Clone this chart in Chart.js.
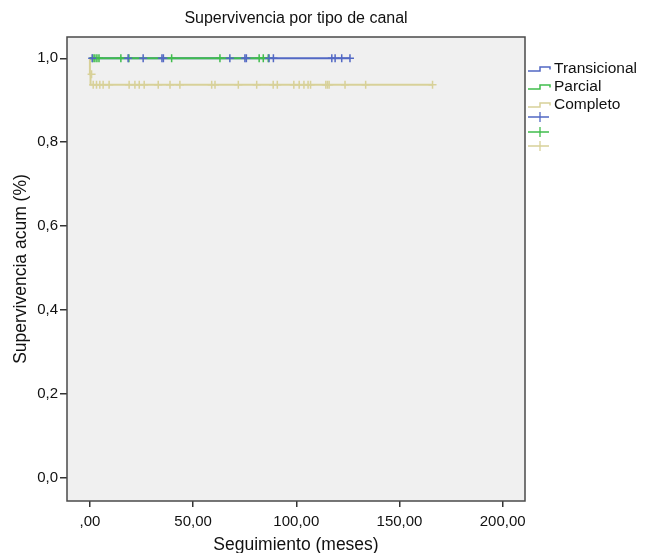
<!DOCTYPE html>
<html>
<head>
<meta charset="utf-8">
<script src="https://cdn.jsdelivr.net/npm/chart.js@4"></script>
<style>
  html, body { margin: 0; padding: 0; background: #fff; }
</style>
</head>
<body>
<canvas id="myChart" width="648" height="553"></canvas>
<script>
const groups = ['Transicional', 'Parcial', 'Completo'];
const colors = ['#5268c4', '#40bd4c', '#d8d199'];

// step curves (meses, supervivencia acumulada)
const transTime = [0, 126];
const transSurv = [1, 1];
const parcTime = [0, 86.4];
const parcSurv = [1, 1];
const compTime = [0, 0.3, 1.2, 166];
const compSurv = [1, 0.962, 0.937, 0.937];

// censored cases
const transCens = [1.1, 18.5, 25.8, 34.9, 35.6, 67.8, 75.1, 75.8, 86.8, 88.9, 117.2, 118.8, 122, 126];
const parcCens = [1.5, 2.4, 3.4, 4.4, 15, 18.9, 39.6, 63, 82, 84, 86.4];
const compCens = [1.6, 3.2, 4.8, 6.4, 9.3, 19.0, 21.8, 23.9, 26.3, 33.1, 38.8, 43.6, 59.0, 60.6,
  71.9, 80.8, 88.8, 90.8, 98.8, 101.4, 103.7, 105.7, 106.9, 114.3, 115.1, 115.9, 123.6, 133.6, 166];
const compEarlyCens = [0.8];

const xTicks = [0, 50, 100, 150, 200];
const yTicks = [0, 0.2, 0.4, 0.6, 0.8, 1.0];

function curve(t, s) {
  return t.map((v, i) => ({ x: v, y: s[i] }));
}
// survival level at time of censoring
function cens(times, t, s) {
  return times.map(v => {
    let y = s[0];
    for (let i = 0; i < t.length; i++) if (t[i] <= v) y = s[i];
    return { x: v, y: y };
  });
}

function stepLine(label, data, color, order) {
  return { label: label, data: data, showLine: true, stepped: 'after', borderColor: color,
    borderWidth: 2, pointRadius: 0, fill: false, order: order };
}
function crossPts(label, data, color) {
  return { label: label, data: data, showLine: false, pointStyle: 'cross', pointRadius: 4,
    borderColor: color, borderWidth: 1.5, order: 0 };
}

const datasets = [
  stepLine(groups[0], curve(transTime, transSurv), colors[0], 2),
  stepLine(groups[1], curve(parcTime, parcSurv), colors[1], 1),
  stepLine(groups[2], curve(compTime, compSurv), colors[2], 3),
  crossPts(groups[0] + ' censurado', cens(transCens, transTime, transSurv), colors[0]),
  crossPts(groups[1] + ' censurado', cens(parcCens, parcTime, parcSurv), colors[1]),
  crossPts(groups[2] + ' censurado', cens(compCens, compTime, compSurv).concat(cens(compEarlyCens, [0, 0.3], [1, 0.962])), colors[2])
];

const fontFamily = '"Liberation Sans", Arial, Helvetica, sans-serif';

const frame = {
  id: 'frame',
  beforeDatasetsDraw(chart) {
    const { ctx, chartArea: a } = chart;
    ctx.save();
    ctx.fillStyle = '#f0f0f0';
    ctx.fillRect(a.left, a.top, a.right - a.left, a.bottom - a.top);
    ctx.strokeStyle = '#4a4a4a';
    ctx.lineWidth = 1.5;
    ctx.strokeRect(a.left, a.top, a.right - a.left, a.bottom - a.top);
    ctx.restore();
  },
  afterDraw(chart) {
    const { ctx, chartArea: a } = chart;
    ctx.save();
    // title
    ctx.fillStyle = '#111';
    ctx.font = '16px ' + fontFamily;
    ctx.textAlign = 'center';
    ctx.textBaseline = 'middle';
    ctx.fillText('Supervivencia por tipo de canal', (a.left + a.right) / 2, 19);

    // legend
    const lx = a.right + 3;
    const rows = [67, 85, 103];
    ctx.textAlign = 'left';
    ctx.font = '15.5px ' + fontFamily;
    groups.forEach((g, i) => {
      const y = rows[i];
      ctx.strokeStyle = colors[i];
      ctx.lineWidth = 1.5;
      ctx.beginPath();
      ctx.moveTo(lx, y + 4);
      ctx.lineTo(lx + 12, y + 4);
      ctx.lineTo(lx + 12, y);
      ctx.lineTo(lx + 22, y);
      ctx.lineTo(lx + 22, y + 2.5);
      ctx.stroke();
      ctx.fillStyle = '#111';
      ctx.fillText(g, lx + 26, y + 1.5);
    });
    const crossRows = [117, 132, 146];
    crossRows.forEach((y, i) => {
      ctx.strokeStyle = colors[i];
      ctx.lineWidth = 1.3;
      ctx.beginPath();
      ctx.moveTo(lx, y);
      ctx.lineTo(lx + 21, y);
      ctx.moveTo(lx + 12, y - 5);
      ctx.lineTo(lx + 12, y + 5);
      ctx.stroke();
    });
    ctx.restore();
  }
};

new Chart(document.getElementById('myChart'), {
  type: 'scatter',
  data: { datasets: datasets },
  options: {
    responsive: false,
    animation: false,
    layout: { padding: { top: 37, right: 123, left: 0, bottom: 0 } },
    plugins: {
      legend: { display: false },
      title: { display: false },
      tooltip: { enabled: false }
    },
    scales: {
      x: {
        type: 'linear',
        min: -11.1,
        max: 210.8,
        afterBuildTicks: s => { s.ticks = xTicks.map(v => ({ value: v })); },
        afterFit: s => { s.height = 52; },
        border: { display: false },
        grid: { drawOnChartArea: false, drawTicks: true, tickLength: 6, color: '#333', lineWidth: 1.5 },
        ticks: {
          padding: 6,
          color: '#111',
          font: { family: fontFamily, size: 15 },
          callback: v => v === 0 ? ',00' : v.toFixed(2).replace('.', ',')
        },
        title: {
          display: true,
          text: 'Seguimiento (meses)',
          color: '#111',
          font: { family: fontFamily, size: 17.5 },
          padding: { top: 0, bottom: -3 }
        }
      },
      y: {
        type: 'linear',
        min: -0.0556,
        max: 1.0508,
        afterBuildTicks: s => { s.ticks = yTicks.map(v => ({ value: v })); },
        afterFit: s => { s.width = 67; },
        border: { display: false },
        grid: { drawOnChartArea: false, drawTicks: true, tickLength: 7, color: '#333', lineWidth: 1.5 },
        ticks: {
          padding: 2,
          color: '#111',
          font: { family: fontFamily, size: 15 },
          callback: v => v.toFixed(1).replace('.', ',')
        },
        title: {
          display: true,
          text: 'Supervivencia acum (%)',
          color: '#111',
          font: { family: fontFamily, size: 17.5 },
          padding: { top: 10.5, bottom: 0 }
        }
      }
    }
  },
  plugins: [frame]
});
</script>
</body>
</html>
